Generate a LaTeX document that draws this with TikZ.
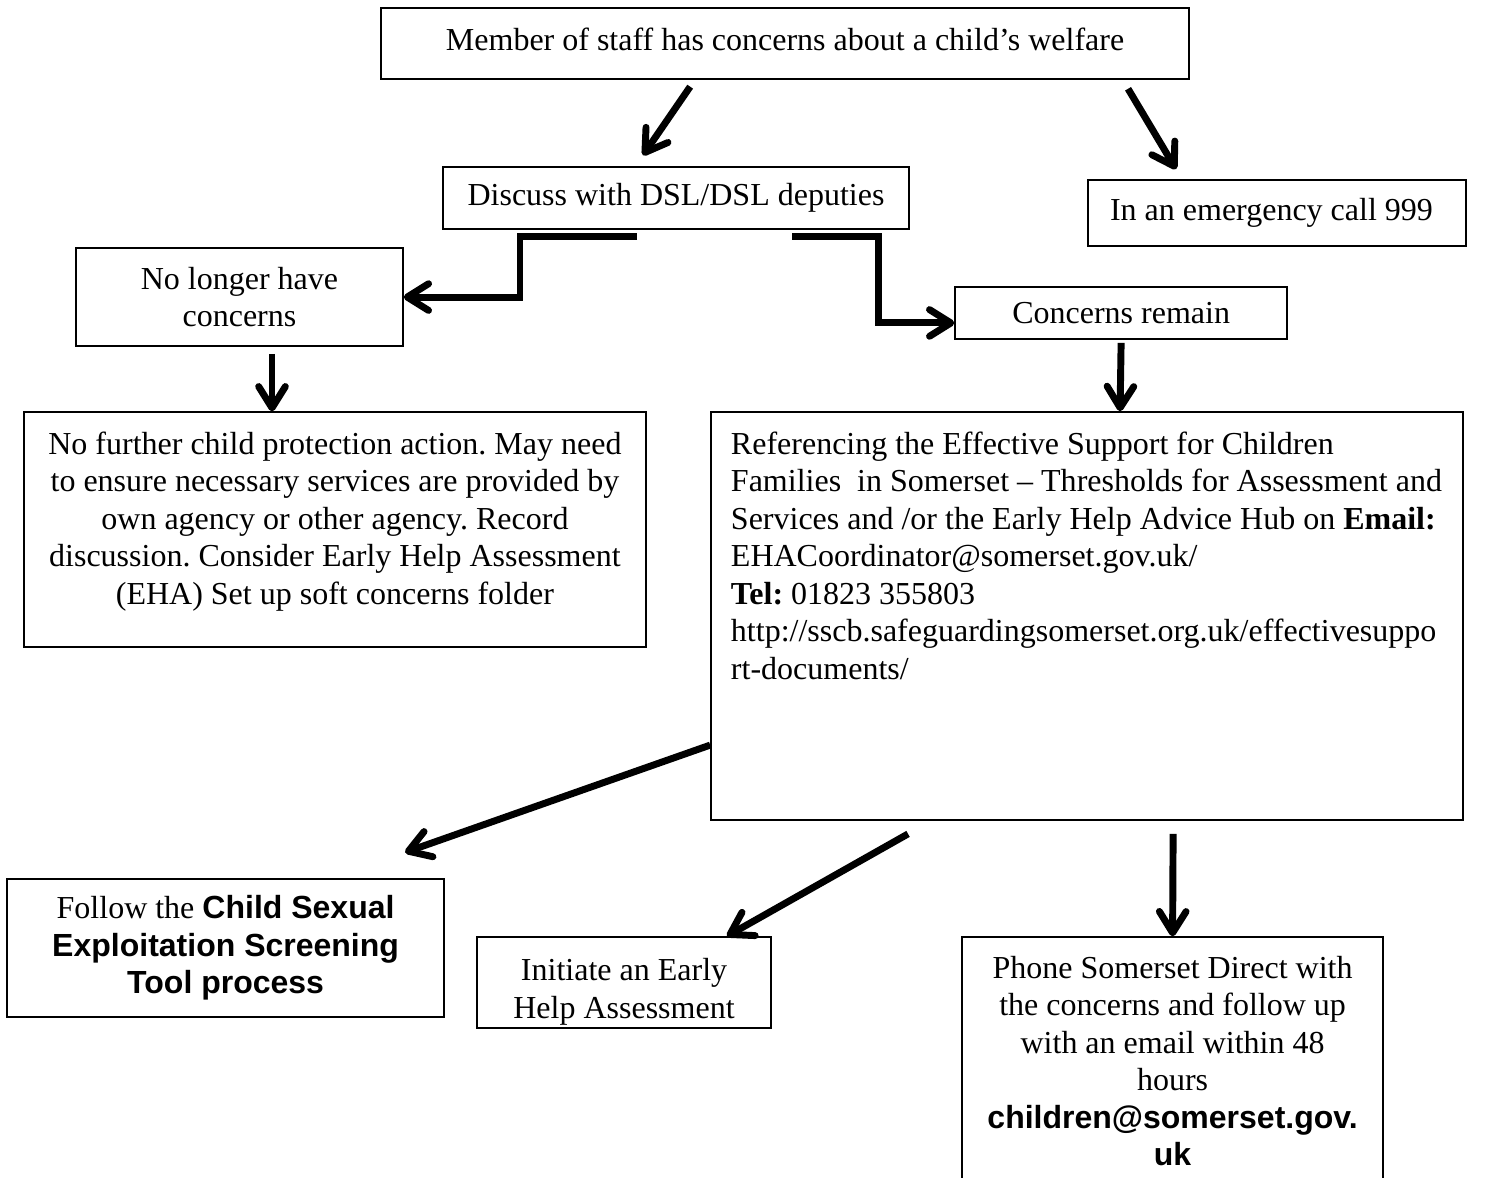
\documentclass[tikz,border=0pt]{standalone}
\usepackage{fontspec}
\setmainfont{Liberation Serif}
\newfontfamily\arialfont{Liberation Sans}
\usetikzlibrary{arrows.meta}
\frenchspacing

\begin{document}
\begin{tikzpicture}[x=1pt,y=-1pt,
    conn/.style={line width=2.6pt, -{Straight Barb[length=8pt,width=10pt,round]}}]

      \useasboundingbox (0,0) rectangle (562.1,441.4);
      \clip (0,0) rectangle (562.1,441.4);

      \begin{scope}[every node/.style={draw, line width=0.6pt, inner sep=0pt, align=center,
          font=\fontsize{12pt}{14.06pt}\selectfont}]
        \node[minimum width=303pt, minimum height=26.6pt, text height=8.2pt, text depth=3pt] (1) at (294.4,16.3)
          {Member of staff has concerns about a child’s welfare};
        \node[minimum width=174.8pt, minimum height=23.3pt] (2) at (253.5,74.3)
          {Discuss with DSL/DSL deputies};
        \node[minimum height=24.8pt, inner xsep=8.25pt] (3) at (478.9,79.9)
          {\makebox[125.3pt][l]{In an emergency call 999}};
        \node[minimum width=122.6pt, minimum height=36.8pt] (4) at (89.8,111.4)
          {No longer have\\concerns};
        \node[minimum width=124.5pt, minimum height=19.5pt] (5) at (420.4,117.4)
          {Concerns remain};
        \node (6) at (125.6,198.6) {\parbox[c][88.1pt][t]{233.3pt}{\centering
          \rule{0pt}{15.8pt}No further child protection action. May need\\
          to ensure necessary services are provided by\\
          own agency or other agency. Record\\
          discussion. Consider Early Help Assessment\\
          (EHA) Set up soft concerns folder}};
        \node (7) at (407.6,231) {\parbox[c][153pt][t]{282pt}{\raggedright\leftskip=7.5pt
          \rule{0pt}{15.8pt}Referencing the Effective Support for Children\\
          Families\ \ in Somerset – Thresholds for Assessment and\\
          Services and /or the Early Help Advice Hub on \textbf{Email:}\\
          EHACoordinator@somerset.gov.uk/\\
          \textbf{Tel:} 01823 355803\\
          http://sscb.safeguardingsomerset.org.uk/effectivesuppo\\
          rt-documents/}};
        \node[minimum width=163.9pt, minimum height=51.75pt] (8) at (84.6,355.5)
          {Follow the {\arialfont\bfseries Child Sexual}\\
          {\arialfont\bfseries Exploitation Screening}\\
          {\arialfont\bfseries Tool process}};
        \node (9) at (234,368.4) {\parbox[c][34.1pt][t]{110.25pt}{\centering
          \rule{0pt}{16.5pt}Initiate an Early\\Help Assessment}};
        \node (10) at (439.7,400.7) {\parbox[c][98.6pt][t]{157.9pt}{\centering
          \rule{0pt}{15.5pt}Phone Somerset Direct with\\
          the concerns and follow up\\
          with an email within 48\\
          hours\\
          {\arialfont\bfseries children@somerset.gov.}\\
          {\arialfont\bfseries uk}}};
      \end{scope}

      \begin{scope}[every edge/.style={draw, conn}]
        \path ([xshift=-35.6pt,yshift=-2.6pt]1.south) edge ([xshift=-12.4pt,yshift=4.1pt]2.north);
        \path ([xshift=128.6pt,yshift=-3.4pt]1.south) edge ([xshift=-37.9pt,yshift=3.75pt]3.north);
        \path ([xshift=12.2pt,yshift=-2.6pt]4.south) edge ([xshift=-23.6pt]6.north);
        \path ([yshift=-1.1pt]5.south) edge ([xshift=12.4pt]7.north);
        \path ([yshift=-48.4pt]7.west) edge ([xshift=67.3pt,yshift=9.7pt]8.north);
        \path ([xshift=-67.1pt,yshift=-4.9pt]7.south) edge ([xshift=38.6pt]9.north);
        \path ([xshift=32.3pt,yshift=-4.9pt]7.south) edge (10.north);
      \end{scope}

      \draw[conn] ([xshift=-14.6pt,yshift=-2.6pt]2.south) -- ++(-43.9,0) |- (4.east);
      \draw[conn] ([xshift=43.5pt,yshift=-2.6pt]2.south) -- ++(32.25,0) |- ([yshift=-3.7pt]5.west);

    \end{tikzpicture}
\end{document}
